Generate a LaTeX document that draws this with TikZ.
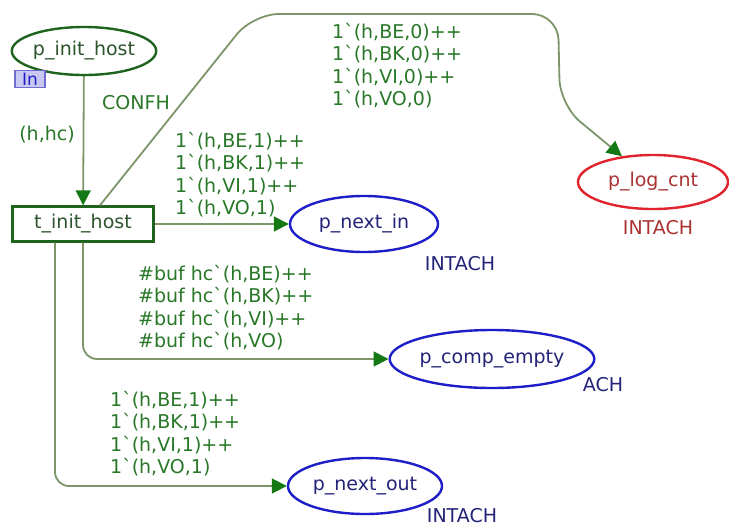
\documentclass[tikz,border=0pt]{standalone}
\usepackage{fontspec}
\setmainfont{DejaVu Sans}
\usetikzlibrary{arrows.meta,shapes.geometric}
\definecolor{namegreen}{RGB}{45,85,45}
\definecolor{labelgreen}{RGB}{40,120,40}
\definecolor{placegreen}{RGB}{30,100,30}
\definecolor{linecol}{RGB}{125,150,105}
\definecolor{arrowcol}{RGB}{20,120,20}
\definecolor{placeblue}{RGB}{30,30,200}
\definecolor{textblue}{RGB}{35,35,120}
\definecolor{placered}{RGB}{225,35,45}
\definecolor{textred}{RGB}{170,50,50}
\definecolor{inboxfill}{RGB}{200,200,240}
\definecolor{inboxdraw}{RGB}{110,110,210}
\newcommand\bkq{\symbol{"02CB}}
\begin{document}
\begin{tikzpicture}[x=1pt,y=-1pt,
  font=\fontsize{19}{22.5}\selectfont,
  place/.style={ellipse, draw, line width=2.4pt, inner sep=0pt},
  trans/.style={rectangle, draw=placegreen, line width=2.4pt, inner sep=0pt,
    minimum width=141pt, minimum height=35pt, text=namegreen},
  arc/.style={draw=linecol, line width=1.8pt,
    -{Triangle[length=15pt,width=15pt,color=arrowcol]}},
  lbl/.style={text=labelgreen, align=left, anchor=north west, inner sep=0pt},
  tag/.style={inner sep=0pt}]
\useasboundingbox (0,0) rectangle (729,528);
\fill[white] (0,0) rectangle (729,528);

% places and transition
\node[place, draw=placegreen, text=namegreen, minimum width=142pt, minimum height=48pt] (pih) at (84,51) {p\_init\_host};
\node[rectangle, draw=inboxdraw, fill=inboxfill, line width=1.2pt, text=placeblue,
      minimum width=30pt, minimum height=17pt, inner sep=0pt, font=\fontsize{17}{17}\selectfont] (inb) at (30,79) {In};
\node[trans] (tih) at (83,224) {t\_init\_host};
\node[place, draw=placered, text=textred, minimum width=150pt, minimum height=54pt] (plc) at (653,182) {p\_log\_cnt};
\node[place, draw=placeblue, text=textblue, minimum width=148pt, minimum height=56pt] (pni) at (364,224) {p\_next\_in};
\node[place, draw=placeblue, text=textblue, minimum width=184pt, minimum height=58pt] (pce) at (492,359) {p\_comp\_empty};
\node[place, draw=placeblue, text=textblue, minimum width=154pt, minimum height=56pt] (pno) at (365,486) {p\_next\_out};

% type tags
\node[tag, text=labelgreen] (tconfh) at (136,103) {CONFH};
\node[tag, text=textred] (tlog) at (658,228) {INTACH};
\node[tag, text=textblue] (tni) at (460,264) {INTACH};
\node[tag, text=textblue] (tce) at (603,385) {ACH};
\node[tag, text=textblue] (tno) at (462,516) {INTACH};

% arcs
\draw[arc] (pih) -- (tih);
\draw[arc] (tih.east) -- (tih.east -| pni.west);
\draw[arc, rounded corners=26pt] ([xshift=17pt]tih.north) -- (253,14) -- (558,14) -- (560,105) -- (plc);
\draw[arc, rounded corners=14pt] (tih.south) -- (83,359) -- (pce.west);
\draw[arc, rounded corners=14pt] ([xshift=-28pt]tih.south) -- (55,486) -- (pno.west);

% arc inscriptions
\node[tag, text=labelgreen] (lhhc) at (47,135) {(h,hc)};
\node[lbl] (l1) at (332,23) {1\bkq(h,BE,0)++\\1\bkq(h,BK,0)++\\1\bkq(h,VI,0)++\\1\bkq(h,VO,0)};
\node[lbl] (l2) at (175,132) {1\bkq(h,BE,1)++\\1\bkq(h,BK,1)++\\1\bkq(h,VI,1)++\\1\bkq(h,VO,1)};
\node[lbl] (l3) at (138,265) {\#buf hc\bkq(h,BE)++\\\#buf hc\bkq(h,BK)++\\\#buf hc\bkq(h,VI)++\\\#buf hc\bkq(h,VO)};
\node[lbl] (l4) at (110,391) {1\bkq(h,BE,1)++\\1\bkq(h,BK,1)++\\1\bkq(h,VI,1)++\\1\bkq(h,VO,1)};
\end{tikzpicture}
\end{document}
